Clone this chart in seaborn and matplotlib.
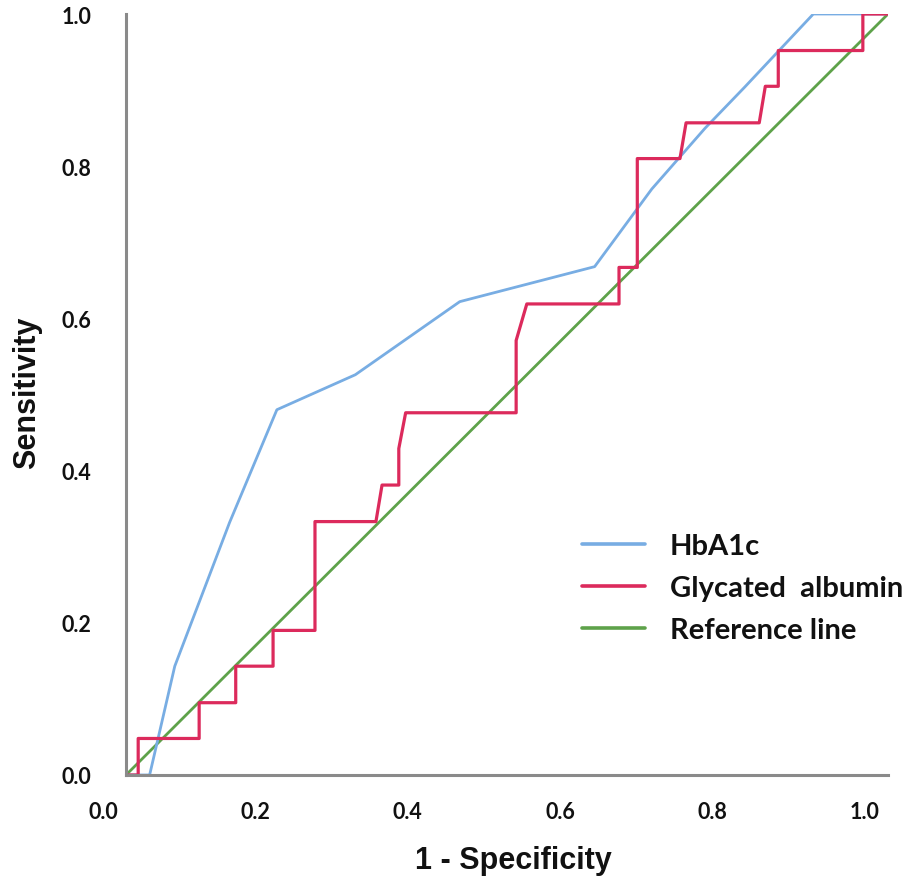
import matplotlib
matplotlib.use("Agg")
import matplotlib.pyplot as plt
import matplotlib.transforms as mtransforms
import seaborn as sns
import pandas as pd

# ---- data ----
hba1c_fpr = [0.0, 0.031, 0.064, 0.136, 0.198, 0.301, 0.438, 0.615, 0.690, 0.760, 0.812, 0.902, 1.0]
hba1c_tpr = [0.0, 0.0, 0.143, 0.332, 0.480, 0.526, 0.622, 0.668, 0.770, 0.850, 0.904, 1.0, 1.0]

ga_fpr = [0.0, 0.016, 0.016, 0.096, 0.096, 0.144, 0.144, 0.193, 0.193, 0.248, 0.248,
          0.328, 0.336, 0.358, 0.358, 0.367, 0.512, 0.512, 0.526, 0.647, 0.647, 0.671,
          0.671, 0.727, 0.735, 0.831, 0.839, 0.856, 0.856, 0.967, 0.967, 1.0]
ga_tpr = [0.0, 0.0, 0.048, 0.048, 0.095, 0.095, 0.143, 0.143, 0.190, 0.190, 0.333,
          0.333, 0.381, 0.381, 0.429, 0.476, 0.476, 0.571, 0.619, 0.619, 0.667, 0.667,
          0.810, 0.810, 0.857, 0.857, 0.905, 0.905, 0.952, 0.952, 1.0, 1.0]

ref_x = [0.0, 1.0]
ref_y = [0.0, 1.0]

tick_values = [0.0, 0.2, 0.4, 0.6, 0.8, 1.0]
tick_labels = ["0.0", "0.2", "0.4", "0.6", "0.8", "1.0"]
series_names = ["HbA1c", "Glycated  albumin", "Reference line"]
colors = ["#78ADE3", "#DC2A5C", "#5EA24A"]

sns.set_theme(style="white")
plt.rcParams["font.family"] = ["Lato", "DejaVu Sans"]

W, H = 905, 879
fig = plt.figure(figsize=(W / 100, H / 100), dpi=100)
ax = fig.add_axes([126 / W, (H - 776) / H, (888 - 126) / W, (776 - 15) / H])

df_h = pd.DataFrame({"x": hba1c_fpr, "y": hba1c_tpr})
df_g = pd.DataFrame({"x": ga_fpr, "y": ga_tpr})
df_r = pd.DataFrame({"x": ref_x, "y": ref_y})

sns.lineplot(data=df_r, x="x", y="y", sort=False, estimator=None, ax=ax,
             color=colors[2], lw=2.0, label=series_names[2], zorder=2)
sns.lineplot(data=df_h, x="x", y="y", sort=False, estimator=None, ax=ax,
             color=colors[0], lw=2.0, label=series_names[0], zorder=3)
sns.lineplot(data=df_g, x="x", y="y", sort=False, estimator=None, ax=ax,
             color=colors[1], lw=2.3, label=series_names[1], zorder=4)

ax.set_xlim(0, 1)
ax.set_ylim(0, 1)
for side in ["top", "right"]:
    ax.spines[side].set_visible(False)
for side in ["left", "bottom"]:
    ax.spines[side].set_color("#8a8a8a")
    ax.spines[side].set_linewidth(2.2)
    ax.spines[side].set_zorder(5)

ax.set_xticks(tick_values)
ax.set_xticklabels(tick_labels)
ax.set_yticks(tick_values)
ax.set_yticklabels(tick_labels)
ax.tick_params(axis="both", length=0, labelsize=15.5, labelcolor="#111111")
ax.tick_params(axis="x", pad=19)
ax.tick_params(axis="y", pad=25)
for lab in ax.get_xticklabels() + ax.get_yticklabels():
    lab.set_fontweight("bold")
offset = mtransforms.ScaledTranslation(-23 / 100, 0, fig.dpi_scale_trans)
for lab in ax.get_xticklabels():
    lab.set_transform(lab.get_transform() + offset)

ax.set_xlabel("1 - Specificity", fontsize=22, fontweight="bold",
              family=["Liberation Sans", "DejaVu Sans"], color="#111111")
ax.set_ylabel("Sensitivity", fontsize=22, fontweight="bold",
              family=["Liberation Sans", "DejaVu Sans"], color="#111111")
ax.xaxis.set_label_coords(0.508, -0.092)
ax.yaxis.set_label_coords(-0.110, 0.503)

handles, labels = ax.get_legend_handles_labels()
order = [labels.index(n) for n in series_names]
leg = ax.legend([handles[i] for i in order], [labels[i] for i in order],
                loc="upper left", bbox_to_anchor=(0.598, 0.318), frameon=False,
                borderpad=0, borderaxespad=0, handlelength=2.16, handletextpad=0.86,
                labelspacing=0.545,
                prop={"family": ["Lato", "DejaVu Sans"], "weight": "bold", "size": 21})
for t in leg.get_texts():
    t.set_color("#111111")
for lh in leg.get_lines():
    lh.set_linewidth(2.6)

fig.savefig("out.png", dpi=100, facecolor="white")
